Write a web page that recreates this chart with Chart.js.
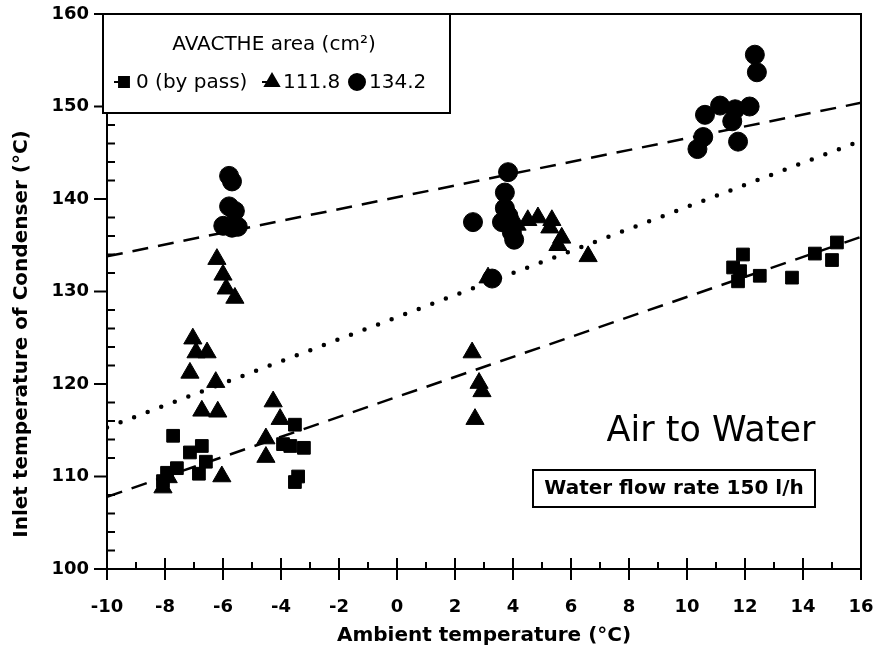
<!DOCTYPE html>
<html>
<head>
<meta charset="utf-8">
<script src="https://cdn.jsdelivr.net/npm/chart.js@4/dist/chart.umd.min.js"></script>
<style>
  html, body { margin:0; padding:0; background:#fff; }
  #wrap { position:relative; width:881px; height:664px; }
</style>
</head>
<body>
<div id="wrap"><canvas id="chart" width="881" height="664"></canvas></div>
<script>
// ── Data ─────────────────────────────────────────────────────

const xTicks = [-10, -8, -6, -4, -2, 0, 2, 4, 6, 8, 10, 12, 14, 16];
const yTicks = [100, 110, 120, 130, 140, 150, 160];

// 0 cm² (by pass)
const bypassX = [-7.72, -7.14, -6.73, -6.59, -7.59, -7.93, -6.83, -8.07, -3.52, -3.93, -3.68, -3.21, -3.41, -3.52,
                 11.93, 11.59, 11.83, 11.76, 12.51, 13.62, 14.41, 15.00, 15.17];
const bypassY = [114.4, 112.6, 113.3, 111.6, 110.9, 110.4, 110.3, 109.5, 115.6, 113.5, 113.3, 113.1, 110.0, 109.4,
                 134.0, 132.6, 132.2, 131.1, 131.7, 131.5, 134.1, 133.4, 135.3];

// 111.8 cm²
const area1X = [-6.21, -6.00, -5.89, -5.59, -7.04, -6.93, -6.55, -7.14, -6.25, -6.73, -6.18, -6.04, -8.07, -7.89,
                -4.27, -4.03, -4.52, -4.52, 2.59, 2.83, 2.93, 2.69, 3.14,
                4.14, 4.51, 4.86, 5.34, 5.27, 5.68, 5.55, 6.59];
const area1Y = [133.5, 131.8, 130.3, 129.3, 124.9, 123.4, 123.4, 121.2, 120.2, 117.1, 117.0, 110.0, 108.8, 109.9,
                118.1, 116.2, 114.1, 112.1, 123.4, 120.1, 119.2, 116.2, 131.5,
                137.2, 137.7, 138.0, 137.7, 136.9, 135.8, 135.0, 133.8];

// 134.2 cm²
const area2X = [-5.79, -5.69, -5.79, -5.59, -5.99, -5.69, -5.49,
                2.62, 3.28, 3.83, 3.72, 3.72, 3.84, 3.62, 3.96, 4.04,
                10.36, 10.56, 10.62, 11.14, 11.66, 11.56, 11.76, 12.16, 12.34, 12.41];
const area2Y = [142.5, 141.9, 139.2, 138.7, 137.1, 136.9, 137.0,
                137.5, 131.4, 142.9, 140.7, 139.0, 138.2, 137.5, 136.4, 135.6,
                145.4, 146.7, 149.1, 150.1, 149.7, 148.4, 146.2, 150.0, 155.6, 153.7];

// regression lines
const fitX       = [-10, 16];
const fitBypassY = [107.8, 135.9];
const fitArea1Y  = [115.3, 146.3];
const fitArea2Y  = [133.8, 150.4];

const FONT = '"DejaVu Sans", sans-serif';

function pts(xs, ys) { return xs.map((x, i) => ({ x, y: ys[i] })); }

// ── Frame, ticks, legend and notes ───────────────────────────

const decorPlugin = {
  id: 'decor',
  afterDraw(chart) {
    const { ctx, chartArea: a, scales } = chart;
    const sx = scales.x, sy = scales.y;
    ctx.save();
    ctx.strokeStyle = '#000';
    ctx.lineWidth = 2;
    ctx.strokeRect(a.left, a.top, a.right - a.left, a.bottom - a.top);

    ctx.beginPath();
    for (let v = 100; v <= 160; v += 2) {
      const y = sy.getPixelForValue(v);
      if (v % 10 === 0) { ctx.moveTo(a.left - 13, y); ctx.lineTo(a.left, y); }
      else { ctx.moveTo(a.left, y); ctx.lineTo(a.left + 8, y); }
    }
    for (let v = -10; v <= 16; v++) {
      const x = sx.getPixelForValue(v);
      if (v % 2 === 0) { ctx.moveTo(x, a.bottom - 11); ctx.lineTo(x, a.bottom + 11); }
      else { ctx.moveTo(x, a.bottom); ctx.lineTo(x, a.bottom - 7); }
    }
    ctx.stroke();

    // y axis title (sits low in the original)
    ctx.fillStyle = '#000';
    ctx.save();
    ctx.translate(22, 334);
    ctx.rotate(-Math.PI / 2);
    ctx.font = 'bold 20px ' + FONT;
    ctx.textAlign = 'center';
    ctx.textBaseline = 'middle';
    ctx.fillText('Inlet temperature of Condenser (°C)', 0, 0);
    ctx.restore();

    // legend box
    const lx = 103, ly = a.top, lw = 347, lh = 99;
    ctx.fillStyle = '#fff';
    ctx.fillRect(lx, ly, lw, lh);
    ctx.strokeRect(lx, ly, lw, lh);
    ctx.fillStyle = '#000';
    ctx.font = '20px ' + FONT;
    ctx.textAlign = 'center';
    ctx.textBaseline = 'middle';
    ctx.fillText('AVACTHE area (cm²)', 274, 45);

    const items = [
      { style:'rect',     mx:124, tx:136, text:'0 (by pass)' },
      { style:'triangle', mx:272, tx:283, text:'111.8' },
      { style:'circle',   mx:357, tx:369, text:'134.2' },
    ];
    ctx.textAlign = 'left';
    items.forEach(it => {
      if (it.style !== 'circle') {
        ctx.beginPath(); ctx.moveTo(it.mx - 10, 82); ctx.lineTo(it.mx, 82); ctx.stroke();
      }
      Chart.helpers.drawPoint(ctx, { pointStyle: it.style, radius: it.style === 'rect' ? 7 : 8, rotation: 0, borderWidth: 1 }, it.mx, 82);
      ctx.fill();
      ctx.fillText(it.text, it.tx, 83);
    });

    // notes
    ctx.font = '35px ' + FONT;
    ctx.textAlign = 'center';
    ctx.fillText('Air to Water', 711, 432);

    ctx.strokeRect(533, 470, 282, 37);
    ctx.font = 'bold 20px ' + FONT;
    ctx.fillText('Water flow rate 150 l/h', 674, 489);
    ctx.restore();
  }
};

const scatterStyle = { backgroundColor:'#000', borderColor:'#000', borderWidth:1, showLine:false };

new Chart(document.getElementById('chart'), {
  type: 'scatter',
  data: {
    datasets: [
      { label:'0 (by pass)', data: pts(bypassX, bypassY), pointStyle:'rect',     pointRadius:9,    ...scatterStyle },
      { label:'111.8',       data: pts(area1X, area1Y),   pointStyle:'triangle', pointRadius:10.5, ...scatterStyle },
      { label:'134.2',       data: pts(area2X, area2Y),   pointStyle:'circle',   pointRadius:9.5,  ...scatterStyle },
      { label:'fit 0',     type:'line', data: pts(fitX, fitBypassY), borderColor:'#000', borderWidth:2.5, borderDash:[16,10], pointRadius:0, fill:false },
      { label:'fit 111.8', type:'line', data: pts(fitX, fitArea1Y),  borderColor:'#000', borderWidth:4.5, borderDash:[0,14.5], borderCapStyle:'round', pointRadius:0, fill:false },
      { label:'fit 134.2', type:'line', data: pts(fitX, fitArea2Y),  borderColor:'#000', borderWidth:2.5, borderDash:[16,10], pointRadius:0, fill:false },
    ]
  },
  options: {
    responsive: false,
    animation: false,
    layout: { autoPadding: false, padding: { top:14, right:20, left:0, bottom:0 } },
    plugins: { legend: { display:false }, tooltip: { enabled:false } },
    scales: {
      x: {
        type: 'linear', min: -10, max: 16,
        afterBuildTicks: s => { s.ticks = xTicks.map(v => ({ value:v })); },
        afterFit: s => { s.height = 95; s.paddingLeft = 0; s.paddingRight = 0; },
        grid: { display:false, drawTicks:false },
        border: { display:false },
        ticks: { color:'#000', padding:28, font:{ family:FONT, size:18, weight:'bold' } },
        title: { display:true, text:'Ambient temperature (°C)', color:'#000',
                 padding:{ top:0, bottom:16 }, font:{ family:FONT, size:20, weight:'bold' } }
      },
      y: {
        type: 'linear', min: 100, max: 160,
        afterBuildTicks: s => { s.ticks = yTicks.map(v => ({ value:v })); },
        afterFit: s => { s.width = 107; s.paddingTop = 0; s.paddingBottom = 0; },
        grid: { display:false, drawTicks:false },
        border: { display:false },
        ticks: { color:'#000', padding:18, font:{ family:FONT, size:18, weight:'bold' } },
        title: { display:false }
      }
    }
  },
  plugins: [decorPlugin]
});
</script>
</body>
</html>
